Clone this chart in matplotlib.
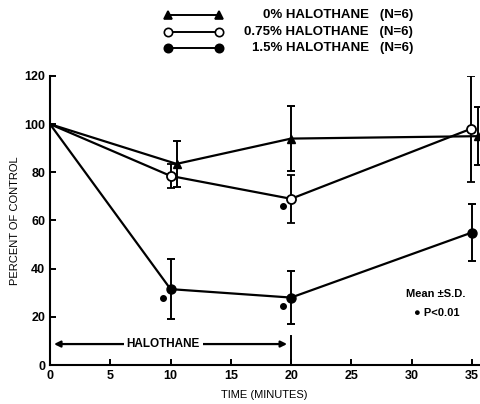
import matplotlib
matplotlib.use("Agg")
import matplotlib.pyplot as plt
from matplotlib.lines import Line2D

plt.rcParams['font.family'] = ['Liberation Sans', 'DejaVu Sans']
plt.rcParams['font.weight'] = 'bold'

# 0% halothane (triangles)
t0 = [0, 10.5, 20, 35.5]
y0 = [100, 83.5, 94, 95]
e0 = [0, 9.5, 13.5, 12]
# 0.75% halothane (open circles)
t1 = [0, 10, 20, 34.9]
y1 = [100, 78.5, 69, 98]
e1 = [0, 5, 10, 22]
# 1.5% halothane (filled circles)
t2 = [0, 10, 20, 35]
y2 = [100, 31.5, 28, 55]
e2 = [0, 12.5, 11, 12]
# significance dots (P<0.01)
sig_x = [9.35, 19.3, 19.3]
sig_y = [28, 66, 24.5]

labels = ['0% HALOTHANE   (N=6)', '0.75% HALOTHANE   (N=6)', '1.5% HALOTHANE   (N=6)']

fig = plt.figure(figsize=(4.81, 4.04), dpi=100)
ax = fig.add_axes([0.104, 0.0965, 0.892, 0.7155])

lw = 1.6
eb = dict(color='black', lw=lw, capsize=3, capthick=1.4, elinewidth=1.4,
          errorevery=(1, 1), markevery=[1, 2, 3])
ax.errorbar(t0, y0, yerr=e0, marker='^', ms=5.5, mfc='black', **eb)
ax.errorbar(t1, y1, yerr=e1, marker='o', ms=6.5, mfc='white', mec='black', mew=1.3, **eb)
ax.errorbar(t2, y2, yerr=e2, marker='o', ms=6.5, mfc='black', **eb)
ax.plot(sig_x, sig_y, 'o', color='black', ms=4, ls='none')

# halothane exposure bar
ax.annotate('', xy=(0.1, 8.7), xytext=(7, 8.7),
            arrowprops=dict(arrowstyle='-|>', color='black', lw=1.6, mutation_scale=9))
ax.annotate('', xy=(19.9, 8.7), xytext=(12, 8.7),
            arrowprops=dict(arrowstyle='-|>', color='black', lw=1.6, mutation_scale=9))
ax.text(9.4, 8.7, 'HALOTHANE', ha='center', va='center', fontsize=8.5,
        bbox=dict(facecolor='white', edgecolor='none', pad=2))
ax.plot([20, 20], [0, 12], color='black', lw=1.4)

ax.text(29.5, 29.5, 'Mean \u00b1S.D.', fontsize=8, ha='left', va='center')
ax.text(30.2, 21.5, '\u25cf P<0.01', fontsize=8, ha='left', va='center')

ax.set_xlim(0, 35.6)
ax.set_ylim(0, 120)
ax.set_xticks([0, 5, 10, 15, 20, 25, 30, 35])
ax.set_yticks([0, 20, 40, 60, 80, 100, 120])
ax.spines['top'].set_visible(False)
ax.spines['right'].set_visible(False)
ax.spines['left'].set_linewidth(1.5)
ax.spines['bottom'].set_linewidth(1.5)
ax.tick_params(direction='in', length=4, width=1.4, labelsize=9)
ax.set_xlabel('TIME (MINUTES)', fontsize=8, labelpad=6)
ax.set_ylabel('PERCENT OF CONTROL', fontsize=8, labelpad=3)

# legend drawn above the axes
markers = [('^', 'black'), ('o', 'white'), ('o', 'black')]
rows = [1 - 15 / 404, 1 - 32 / 404, 1 - 48 / 404]
for (m, fc), yy, lab in zip(markers, rows, labels):
    fig.add_artist(Line2D([168 / 481, 219 / 481], [yy, yy], color='black', lw=1.4,
                          marker=m, ms=6, mfc=fc, mec='black', mew=1.2))
    fig.text(413 / 481, yy, lab, ha='right', va='center', fontsize=9.5)

fig.savefig('out.png', dpi=100)
